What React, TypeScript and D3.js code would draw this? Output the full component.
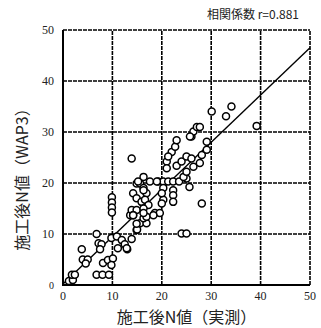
import * as React from "react";
import * as d3 from "d3";

const xTicks = [0, 10, 20, 30, 40, 50];
const yTicks = [0, 10, 20, 30, 40, 50];
const titleText = "相関係数 r=0.881";
const xLabel = "施工後N値（実測）";
const yLabel = "施工後N値（WAP3）";

// regression line end points [measured, WAP3]
const fitLine = [
  [0, 0.2],
  [50, 46.5],
];

const measured = [
  1.2, 2.0, 1.8, 2.4, 3.8, 4.0, 5.0, 4.6, 6.8, 7.2, 7.8, 7.5, 6.8, 8.0, 9.3, 8.1,
  9.1, 10.1, 9.8, 9.8, 10.9, 11.9, 11.1, 12.5, 13.0, 13.9, 9.9, 9.9, 9.9, 9.9,
  13.9, 14.9, 13.6, 13.9, 14.9, 15.6, 16.9, 16.3, 16.9, 18.6, 19.6, 14.2, 14.9,
  15.6, 16.3, 16.3, 16.9, 14.9, 15.9, 16.3, 16.6, 17.3, 16.3, 14.2, 19.3, 20.3,
  21.3, 22.3, 23.5, 25.0, 24.4, 25.6, 22.3, 22.3, 22.3, 20.3, 20.3, 20.0, 20.0,
  28.1, 24.0, 25.0, 21.0, 21.0, 22.0, 22.7, 23.0, 21.3, 23.0, 24.0, 25.0, 26.0,
  26.4, 27.7, 28.1, 29.1, 29.1, 26.0, 26.4, 27.1, 27.7, 25.7, 30.1, 33.0, 34.1,
  39.2, 25.0, 15.2, 17.6, 19.0, 15.0, 14.2, 16.3, 12.9, 14.9, 18.3,
];
const wap3 = [
  0.8, 1.0, 2.0, 2.0, 7.0, 5.0, 5.0, 4.2, 10.0, 8.2, 8.0, 7.0, 2.0, 2.0, 2.0, 4.3,
  4.9, 5.2, 3.9, 9.2, 9.5, 8.8, 7.2, 8.0, 7.0, 9.0, 17.2, 16.2, 15.2, 14.2, 24.8,
  10.8, 13.7, 14.7, 14.7, 12.1, 12.1, 13.1, 13.4, 14.1, 14.1, 18.0, 19.9, 19.9,
  21.2, 19.0, 18.0, 17.0, 16.3, 18.6, 16.7, 15.7, 15.0, 13.7, 20.3, 20.3, 20.3,
  20.3, 20.3, 20.9, 21.2, 19.2, 18.6, 17.6, 16.3, 16.7, 19.0, 18.0, 16.0, 16.0,
  10.1, 10.1, 24.2, 22.9, 26.1, 27.1, 28.4, 25.2, 23.4, 24.2, 25.2, 24.8, 23.2,
  23.9, 25.5, 26.5, 28.1, 29.1, 30.1, 31.0, 31.0, 29.1, 34.0, 33.1, 35.0, 31.2,
  22.2, 20.3, 20.3, 20.3, 10.9, 13.7, 14.1, 7.2, 12.0, 13.7,
];

const W = 321;
const H = 328;
const margin = { top: 30, right: 11, bottom: 43, left: 63 };

export default function App() {
  const ref = React.useRef<SVGSVGElement>(null);

  React.useEffect(() => {
    const svg = d3.select(ref.current);
    svg.selectAll("*").remove();

    const x = d3
      .scaleLinear()
      .domain([0, 50])
      .range([margin.left, W - margin.right]);
    const y = d3
      .scaleLinear()
      .domain([0, 50])
      .range([H - margin.bottom, margin.top]);

    const g = svg.append("g");

    // grid
    g.selectAll(".vgrid")
      .data(xTicks.slice(1))
      .enter()
      .append("line")
      .attr("x1", (d) => x(d))
      .attr("x2", (d) => x(d))
      .attr("y1", y(0))
      .attr("y2", y(50))
      .attr("stroke", "#000")
      .attr("stroke-width", 1.6)
      .attr("stroke-dasharray", "4,1");

    g.selectAll(".hgrid")
      .data(yTicks.slice(1))
      .enter()
      .append("line")
      .attr("x1", x(0))
      .attr("x2", x(50))
      .attr("y1", (d) => y(d))
      .attr("y2", (d) => y(d))
      .attr("stroke", "#000")
      .attr("stroke-width", 1.6)
      .attr("stroke-dasharray", "4,1");

    // solid left and bottom frame
    g.append("line")
      .attr("x1", x(0))
      .attr("x2", x(0))
      .attr("y1", y(0) + 1)
      .attr("y2", y(50))
      .attr("stroke", "#000")
      .attr("stroke-width", 2);
    g.append("line")
      .attr("x1", x(0) - 1)
      .attr("x2", x(50))
      .attr("y1", y(0))
      .attr("y2", y(0))
      .attr("stroke", "#000")
      .attr("stroke-width", 2);

    // regression line
    const line = d3
      .line<number[]>()
      .x((d) => x(d[0]))
      .y((d) => y(d[1]));
    g.append("path")
      .attr("d", line(fitLine))
      .attr("fill", "none")
      .attr("stroke", "#000")
      .attr("stroke-width", 1.4);

    // points
    const pts = measured.map((m, i) => [m, wap3[i]]);
    g.selectAll(".pt")
      .data(pts)
      .enter()
      .append("circle")
      .attr("cx", (d) => x(d[0]))
      .attr("cy", (d) => y(d[1]))
      .attr("r", 3.5)
      .attr("fill", "#fff")
      .attr("stroke", "#000")
      .attr("stroke-width", 1.5);

    // tick labels
    const tickFont = "'Liberation Serif', 'DejaVu Serif', serif";
    g.selectAll(".xt")
      .data(xTicks)
      .enter()
      .append("text")
      .attr("x", (d) => x(d))
      .attr("y", H - margin.bottom + 15)
      .attr("text-anchor", "middle")
      .attr("font-family", tickFont)
      .attr("font-size", 12)
      .attr("fill", "#222")
      .text((d) => d);

    g.selectAll(".yt")
      .data(yTicks)
      .enter()
      .append("text")
      .attr("x", margin.left - 9)
      .attr("y", (d) => y(d) + 4)
      .attr("text-anchor", "end")
      .attr("font-family", tickFont)
      .attr("font-size", (d) => (d === 0 ? 10 : 12))
      .attr("fill", "#222")
      .text((d) => d);

    const jpFont = "'Noto Sans CJK JP', 'Noto Sans', sans-serif";

    // correlation title
    svg
      .append("text")
      .attr("x", W - 22)
      .attr("y", 19)
      .attr("text-anchor", "end")
      .attr("font-family", jpFont)
      .attr("font-size", 12)
      .attr("fill", "#222")
      .text(titleText);

    // axis titles
    svg
      .append("text")
      .attr("x", (x(0) + x(50)) / 2)
      .attr("y", 323)
      .attr("text-anchor", "middle")
      .attr("font-family", jpFont)
      .attr("font-size", 16)
      .attr("fill", "#222")
      .text(xLabel);

    svg
      .append("text")
      .attr("transform", `translate(28, ${(y(0) + y(50)) / 2 + 18}) rotate(-90)`)
      .attr("text-anchor", "middle")
      .attr("font-family", jpFont)
      .attr("font-size", 16)
      .attr("fill", "#222")
      .text(yLabel);
  }, []);

  return (
    <svg
      ref={ref}
      width={W}
      height={H}
      style={{ position: "absolute", left: 0, top: 0, background: "#fff" }}
    />
  );
}
